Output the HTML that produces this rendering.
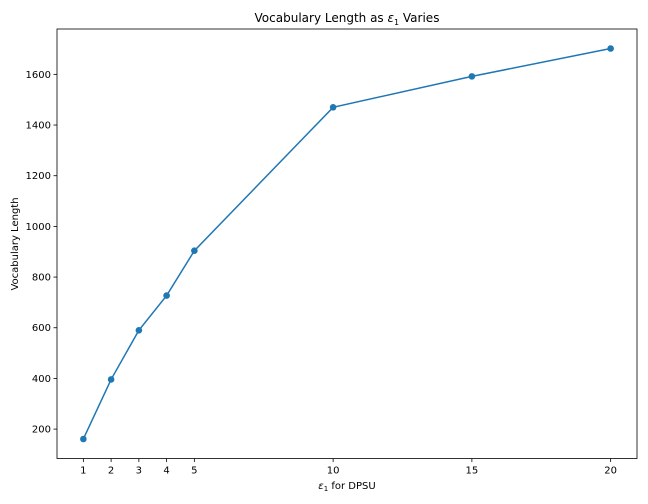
<!DOCTYPE html>
<html><head><meta charset="utf-8"><style>
body{margin:0;background:#fff;}
svg{display:block;font-family:"DejaVu Sans","Liberation Sans",sans-serif;}
</style></head><body>
<svg id="chart" width="648" height="504" viewBox="0 0 648 504" xmlns="http://www.w3.org/2000/svg">
<rect width="648" height="504" fill="#fff"/>
<text x="347" y="22" text-anchor="middle" font-size="12">Vocabulary Length as <tspan font-style="italic">ε</tspan><tspan font-size="8" dy="3">1</tspan><tspan dy="-3"> Varies</tspan></text>
<text x="347" y="489" text-anchor="middle" font-size="10"><tspan font-style="italic">ε</tspan><tspan font-size="7" dy="2">1</tspan><tspan dy="-2"> for DPSU</tspan></text>
<text transform="translate(18,244) rotate(-90)" text-anchor="middle" font-size="10">Vocabulary Length</text>
<g id="axes"></g>
<g id="marks"></g>
<rect x="57" y="29" width="580" height="429.5" fill="none" stroke="#000" stroke-width="0.8"/>
</svg>
<script>
const epsilons = [1, 2, 3, 4, 5, 10, 15, 20];
const vocabLengths = [161, 396, 590, 727, 904, 1470, 1592, 1702];
const xTicks = [1, 2, 3, 4, 5, 10, 15, 20];
const yTicks = [200, 400, 600, 800, 1000, 1200, 1400, 1600];

const L = 57, R = 637, T = 29, B = 458.5;
const xMin = 0.05, xMax = 20.95, yMin = 84, yMax = 1779;
function xs(v){ return L + (v - xMin) / (xMax - xMin) * (R - L); }
function ys(v){ return B - (v - yMin) / (yMax - yMin) * (B - T); }
const NS = "http://www.w3.org/2000/svg";
const axes = document.getElementById('axes');
const marks = document.getElementById('marks');

xTicks.forEach(t => {
  const x = xs(t);
  const ln = document.createElementNS(NS, 'line');
  
  
  ln.setAttribute('x1', x); ln.setAttribute('x2', x);
  ln.setAttribute('y1', B); ln.setAttribute('y2', B + 3.5);
  ln.setAttribute('stroke', '#000'); ln.setAttribute('stroke-width', '0.8');
  axes.appendChild(ln);
  const tx = document.createElementNS(NS, 'text');
  
  
  tx.setAttribute('x', x); tx.setAttribute('y', B + 15);
  tx.setAttribute('text-anchor', 'middle'); tx.setAttribute('font-size', '10');
  tx.textContent = t;
  axes.appendChild(tx);
});
yTicks.forEach(t => {
  const y = ys(t);
  const ln = document.createElementNS(NS, 'line');
  
  
  ln.setAttribute('x1', L - 3.5); ln.setAttribute('x2', L);
  ln.setAttribute('y1', y); ln.setAttribute('y2', y);
  ln.setAttribute('stroke', '#000'); ln.setAttribute('stroke-width', '0.8');
  axes.appendChild(ln);
  const tx = document.createElementNS(NS, 'text');
  
  
  tx.setAttribute('x', L - 6); tx.setAttribute('y', y + 3.5);
  tx.setAttribute('text-anchor', 'end'); tx.setAttribute('font-size', '10');
  tx.textContent = t;
  axes.appendChild(tx);
});

const pts = epsilons.map((e, i) => xs(e) + ',' + ys(vocabLengths[i])).join(' ');
const pl = document.createElementNS(NS, 'polyline');


pl.setAttribute('points', pts);
pl.setAttribute('fill', 'none'); pl.setAttribute('stroke', '#1f77b4'); pl.setAttribute('stroke-width', '1.5');
marks.appendChild(pl);
epsilons.forEach((e, i) => {
  const c = document.createElementNS(NS, 'circle');
  
  
  c.setAttribute('cx', xs(e)); c.setAttribute('cy', ys(vocabLengths[i]));
  c.setAttribute('r', 3.3); c.setAttribute('fill', '#1f77b4');
  marks.appendChild(c);
});
</script>
</body></html>
